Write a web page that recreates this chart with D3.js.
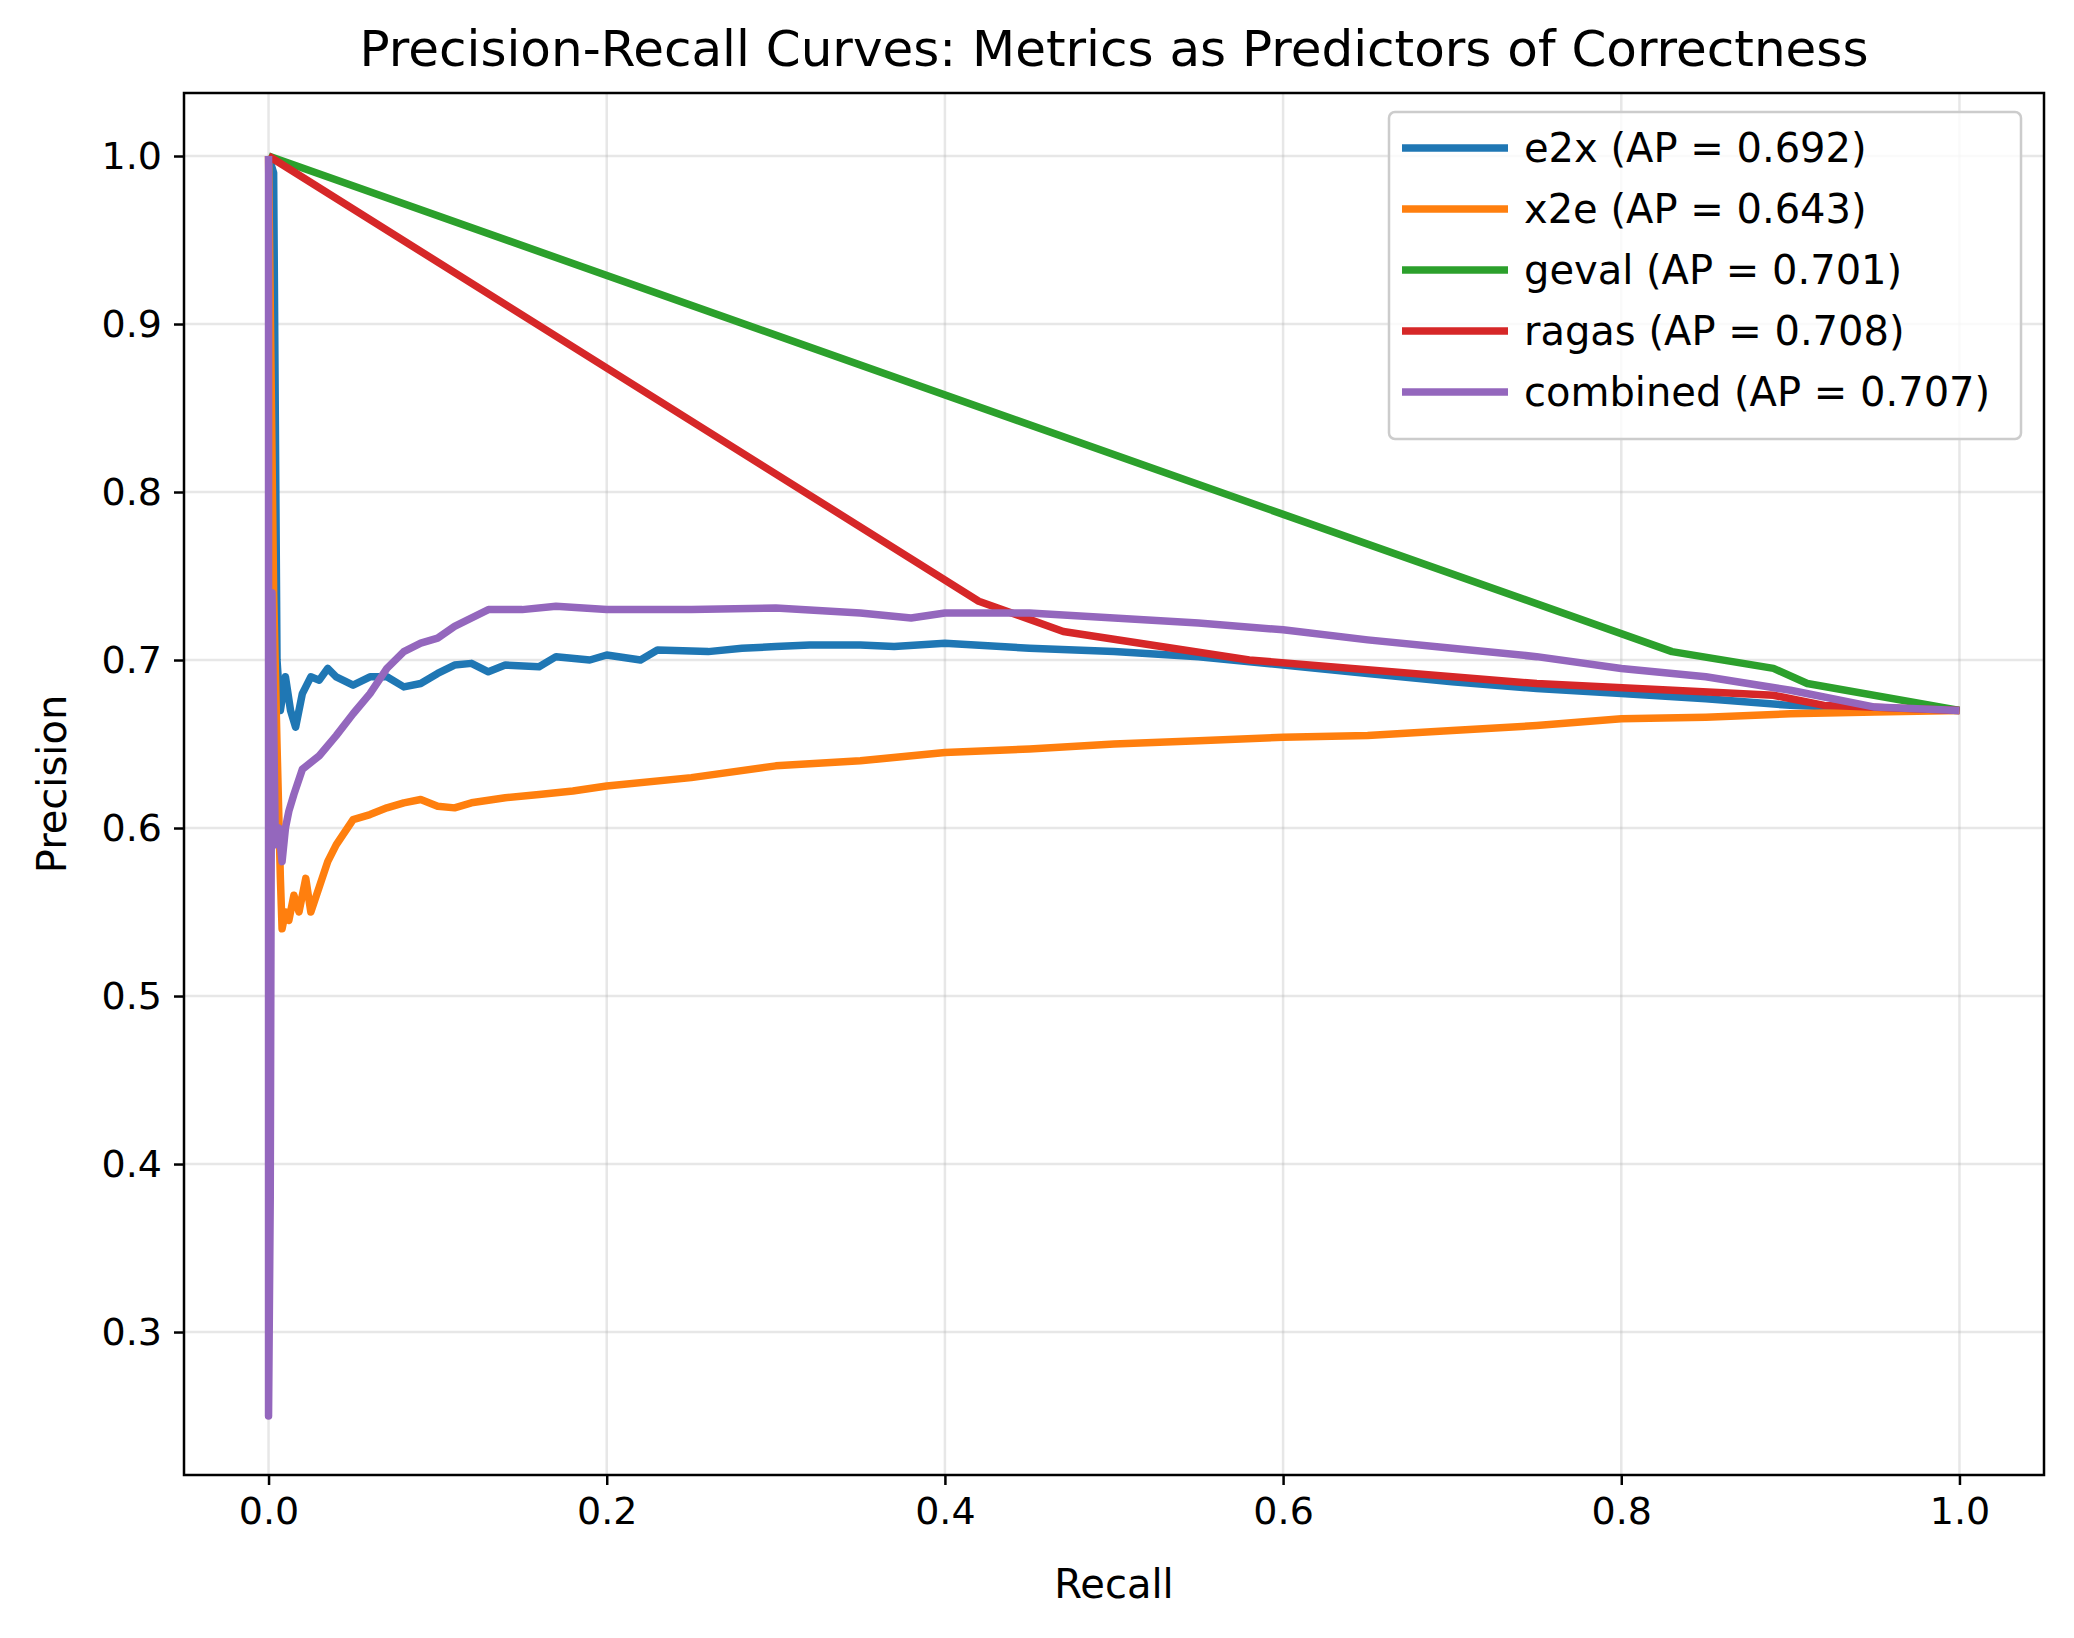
<!DOCTYPE html>
<html lang="en">
<head>
<meta charset="utf-8">
<title>Precision-Recall Curves</title>
<script src="https://cdn.jsdelivr.net/npm/d3@7"></script>
<style>
  body { margin: 0; background: #fff; }
  text { font-family: "DejaVu Sans", sans-serif; fill: #000; }
</style>
</head>
<body>
<script>
var w = 2074, h = 1638;
var margin = { top: 93, right: 30, bottom: 163, left: 184 };

var seriesNames = ["e2x", "x2e", "geval", "ragas", "combined"];
var apValues = [0.692, 0.643, 0.701, 0.708, 0.707];
var colors = ["#1f77b4", "#ff7f0e", "#2ca02c", "#d62728", "#9467bd"];

// [recall, precision]
var e2x = [[0,1.0],[0.003,0.99],[0.005,0.70],[0.007,0.67],[0.01,0.69],[0.013,0.67],[0.016,0.66],[0.02,0.68],[0.025,0.69],[0.03,0.688],[0.035,0.695],[0.04,0.69],[0.05,0.685],[0.06,0.69],[0.07,0.69],[0.08,0.684],[0.09,0.686],[0.1,0.692],[0.11,0.697],[0.12,0.698],[0.13,0.693],[0.14,0.697],[0.16,0.696],[0.17,0.702],[0.19,0.70],[0.2,0.703],[0.22,0.70],[0.23,0.706],[0.26,0.705],[0.28,0.707],[0.3,0.708],[0.32,0.709],[0.35,0.709],[0.37,0.708],[0.4,0.71],[0.45,0.707],[0.5,0.705],[0.55,0.702],[0.6,0.697],[0.65,0.692],[0.7,0.687],[0.75,0.683],[0.8,0.68],[0.85,0.677],[0.9,0.673],[0.95,0.671],[1.0,0.67]];
var x2e = [[0,1],[0.003,0.74],[0.005,0.65],[0.007,0.57],[0.008,0.54],[0.01,0.55],[0.012,0.545],[0.015,0.56],[0.018,0.55],[0.022,0.57],[0.025,0.55],[0.03,0.565],[0.035,0.58],[0.04,0.59],[0.05,0.605],[0.06,0.608],[0.07,0.612],[0.08,0.615],[0.09,0.617],[0.1,0.613],[0.11,0.612],[0.12,0.615],[0.14,0.618],[0.16,0.62],[0.18,0.622],[0.2,0.625],[0.25,0.63],[0.3,0.637],[0.35,0.64],[0.4,0.645],[0.45,0.647],[0.5,0.65],[0.55,0.652],[0.6,0.654],[0.65,0.655],[0.7,0.658],[0.75,0.661],[0.8,0.665],[0.85,0.666],[0.9,0.668],[0.95,0.669],[1,0.67]];
var geval = [[0,1],[0.83,0.705],[0.89,0.695],[0.91,0.686],[1,0.67]];
var ragas = [[0,1],[0.42,0.735],[0.47,0.717],[0.58,0.700],[0.75,0.686],[0.89,0.679],[0.92,0.673],[1,0.67]];
var combined = [[0,1],[0,0.25],[0.001,0.38],[0.002,0.74],[0.004,0.59],[0.006,0.6],[0.008,0.58],[0.01,0.6],[0.012,0.61],[0.015,0.62],[0.02,0.635],[0.03,0.643],[0.04,0.655],[0.05,0.668],[0.06,0.68],[0.07,0.695],[0.08,0.705],[0.09,0.71],[0.1,0.713],[0.11,0.72],[0.13,0.73],[0.15,0.73],[0.17,0.732],[0.2,0.73],[0.25,0.73],[0.3,0.731],[0.35,0.728],[0.38,0.725],[0.4,0.728],[0.45,0.728],[0.5,0.725],[0.55,0.722],[0.6,0.718],[0.65,0.712],[0.7,0.707],[0.75,0.702],[0.8,0.695],[0.85,0.69],[0.9,0.682],[0.95,0.672],[1,0.67]];
var curves = [e2x, x2e, geval, ragas, combined];

var xTicks = [0, 0.2, 0.4, 0.6, 0.8, 1.0];
var yTicks = [0.3, 0.4, 0.5, 0.6, 0.7, 0.8, 0.9, 1.0];

var xScale = d3.scaleLinear().domain([-0.05, 1.05]).range([margin.left, w - margin.right]);
var yScale = d3.scaleLinear().domain([0.2149, 1.0375]).range([h - margin.bottom, margin.top]);

var svg = d3.select("body").append("svg").attr("width", w).attr("height", h);

// grid
svg.append("g").selectAll("line").data(xTicks).enter().append("line")
   .attr("x1", function(d) { return xScale(d); }).attr("x2", function(d) { return xScale(d); })
   .attr("y1", margin.top).attr("y2", h - margin.bottom)
   .attr("stroke", "#b0b0b0").attr("stroke-opacity", 0.3).attr("stroke-width", 2.5);
svg.append("g").selectAll("line").data(yTicks).enter().append("line")
   .attr("y1", function(d) { return yScale(d); }).attr("y2", function(d) { return yScale(d); })
   .attr("x1", margin.left).attr("x2", w - margin.right)
   .attr("stroke", "#b0b0b0").attr("stroke-opacity", 0.3).attr("stroke-width", 2.5);

var line = d3.line().x(function(d) { return xScale(d[0]); }).y(function(d) { return yScale(d[1]); });

svg.append("g").selectAll("path").data(curves).enter().append("path")
   .attr("d", line).attr("fill", "none")
   .attr("stroke", function(d, i) { return colors[i]; })
   .attr("stroke-width", 7.5).attr("stroke-linejoin", "round");

// axes
var xAxis = d3.axisBottom(xScale).tickValues(xTicks).tickFormat(d3.format(".1f")).tickSize(10).tickPadding(12);
var yAxis = d3.axisLeft(yScale).tickValues(yTicks).tickFormat(d3.format(".1f")).tickSize(10).tickPadding(12);

svg.append("g").attr("transform", "translate(0," + (h - margin.bottom) + ")").call(xAxis)
   .call(function(g) { g.select(".domain").remove(); });
svg.append("g").attr("transform", "translate(" + margin.left + ",0)").call(yAxis)
   .call(function(g) { g.select(".domain").remove(); });
svg.selectAll(".tick text").attr("font-size", 38).attr("font-family", "DejaVu Sans");
svg.selectAll(".tick line").attr("stroke-width", 2.5);

svg.append("rect").attr("x", margin.left).attr("y", margin.top)
   .attr("width", w - margin.left - margin.right).attr("height", h - margin.top - margin.bottom)
   .attr("fill", "none").attr("stroke", "#000").attr("stroke-width", 2.5);

svg.append("text").attr("x", (margin.left + w - margin.right) / 2).attr("y", 66)
   .attr("text-anchor", "middle").attr("font-size", 50)
   .text("Precision-Recall Curves: Metrics as Predictors of Correctness");
svg.append("text").attr("x", (margin.left + w - margin.right) / 2).attr("y", 1598)
   .attr("text-anchor", "middle").attr("font-size", 40).text("Recall");
svg.append("text").attr("transform", "translate(66," + ((margin.top + h - margin.bottom) / 2) + ") rotate(-90)")
   .attr("text-anchor", "middle").attr("font-size", 40).text("Precision");

// legend
var lg = svg.append("g").attr("transform", "translate(1389,112)");
lg.append("rect").attr("width", 632).attr("height", 327).attr("rx", 6)
   .attr("fill", "#fff").attr("fill-opacity", 0.8).attr("stroke", "#ccc").attr("stroke-width", 2.5);
var items = lg.selectAll("g").data(seriesNames).enter().append("g")
   .attr("transform", function(d, i) { return "translate(0," + (36 + i * 61) + ")"; });
items.append("line").attr("x1", 13).attr("x2", 119)
   .attr("stroke", function(d, i) { return colors[i]; }).attr("stroke-width", 7.5);
items.append("text").attr("x", 135).attr("y", 14).attr("font-size", 40)
   .text(function(d, i) { return d + " (AP = " + apValues[i].toFixed(3) + ")"; });
</script>
</body>
</html>
